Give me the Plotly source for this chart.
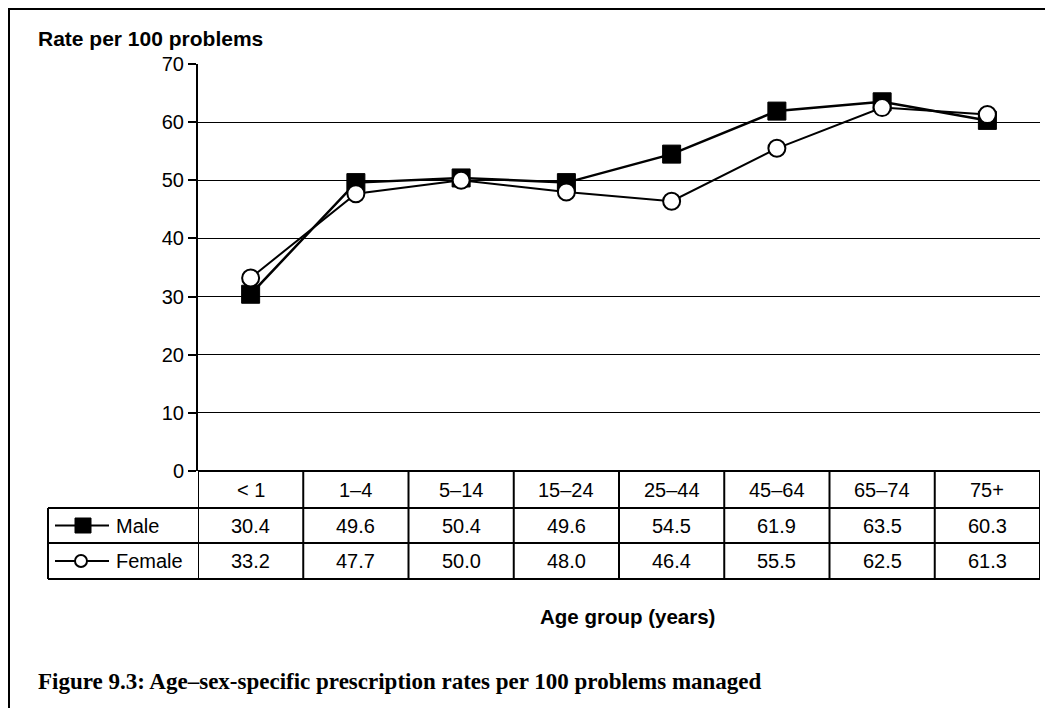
import plotly.graph_objects as go

age_groups = ["< 1", "1–4", "5–14", "15–24", "25–44", "45–64", "65–74", "75+"]
male = [30.4, 49.6, 50.4, 49.6, 54.5, 61.9, 63.5, 60.3]
female = [33.2, 47.7, 50.0, 48.0, 46.4, 55.5, 62.5, 61.3]
series_names = ["Male", "Female"]
y_ticks = [0, 10, 20, 30, 40, 50, 60, 70]

# page body has an 8px margin; work in screen pixels and convert
O = 8
W, H = 1053 - O, 708 - O
L, R, T, B = 198, 1040, 64, 471   # screen pixels of plot area
PW, PH = R - L, B - T

def px_x(x):
    return (x - L) / PW

def px_y(y):
    return (B - y) / PH

SANS = "Arial, Liberation Sans, sans-serif"
idx = list(range(len(age_groups)))

fig = go.Figure()
fig.add_trace(go.Scatter(
    x=idx, y=male, mode="lines+markers", name="Male",
    line=dict(color="black", width=2.5),
    marker=dict(symbol="square", size=18, color="black", line=dict(color="black", width=1)),
    cliponaxis=False, showlegend=False))
fig.add_trace(go.Scatter(
    x=idx, y=female, mode="lines+markers", name="Female",
    line=dict(color="black", width=2),
    marker=dict(symbol="circle", size=17, color="white", line=dict(color="black", width=2)),
    cliponaxis=False, showlegend=False))

shapes = []
ann = []
lw = 2
row_y = [471, 508, 543, 579]
shapes.append(dict(type="line", xref="paper", yref="paper", x0=0, x1=1,
                   y0=px_y(row_y[0]), y1=px_y(row_y[0]), line=dict(color="black", width=lw)))
for yy in row_y[1:]:
    shapes.append(dict(type="line", xref="paper", yref="paper", x0=px_x(48), x1=1,
                       y0=px_y(yy), y1=px_y(yy), line=dict(color="black", width=lw)))
for i in range(len(age_groups) + 1):
    shapes.append(dict(type="line", xref="x", yref="paper", x0=i - 0.5, x1=i - 0.5,
                       y0=px_y(row_y[0]), y1=px_y(row_y[3]), line=dict(color="black", width=lw)))
shapes.append(dict(type="line", xref="paper", yref="paper", x0=px_x(48), x1=px_x(48),
                   y0=px_y(row_y[1]), y1=px_y(row_y[3]), line=dict(color="black", width=lw)))

for k, name in enumerate(series_names):
    yc = (row_y[k + 1] + row_y[k + 2]) / 2
    shapes.append(dict(type="line", xref="paper", yref="paper", x0=px_x(55), x1=px_x(109),
                       y0=px_y(yc), y1=px_y(yc), line=dict(color="black", width=2)))
    if k == 0:
        shapes.append(dict(type="rect", xref="paper", yref="paper", x0=px_x(75), x1=px_x(91),
                           y0=px_y(yc - 7.5), y1=px_y(yc + 7.5),
                           fillcolor="black", line=dict(color="black", width=1)))
    else:
        shapes.append(dict(type="circle", xref="paper", yref="paper", x0=px_x(75), x1=px_x(87),
                           y0=px_y(yc - 6), y1=px_y(yc + 6),
                           fillcolor="white", line=dict(color="black", width=2)))
    ann.append(dict(x=px_x(114), y=px_y(yc), xref="paper", yref="paper", text=name,
                    showarrow=False, xanchor="left", yanchor="middle",
                    font=dict(family=SANS, size=20, color="black")))

hy = (row_y[0] + row_y[1]) / 2
for i, g in enumerate(age_groups):
    ann.append(dict(x=i, y=px_y(hy), xref="x", yref="paper", text=g, showarrow=False,
                    xanchor="center", yanchor="middle",
                    font=dict(family=SANS, size=20, color="black")))
for k, vals in enumerate([male, female]):
    yc = (row_y[k + 1] + row_y[k + 2]) / 2
    for i, v in enumerate(vals):
        ann.append(dict(x=i, y=px_y(yc), xref="x", yref="paper", text=f"{v:.1f}", showarrow=False,
                        xanchor="center", yanchor="middle",
                        font=dict(family=SANS, size=20, color="black")))

# outer frame (left and top)
shapes.append(dict(type="line", xref="paper", yref="paper", x0=px_x(9), x1=px_x(9),
                   y0=px_y(9), y1=px_y(720), line=dict(color="black", width=2)))
shapes.append(dict(type="line", xref="paper", yref="paper", x0=px_x(8), x1=px_x(1070),
                   y0=px_y(9), y1=px_y(9), line=dict(color="black", width=2)))

ann.append(dict(x=px_x(36), y=px_y(38), xref="paper", yref="paper", text="<b>Rate per 100 problems</b>",
                showarrow=False, xanchor="left", yanchor="middle",
                font=dict(family=SANS, size=21, color="black")))
ann.append(dict(x=px_x(627), y=px_y(616), xref="paper", yref="paper", text="<b>Age group (years)</b>",
                showarrow=False, xanchor="center", yanchor="middle",
                font=dict(family=SANS, size=20.5, color="black")))
ann.append(dict(x=px_x(36), y=px_y(681), xref="paper", yref="paper",
                text="<b>Figure 9.3: Age–sex-specific prescription rates per 100 problems managed</b>",
                showarrow=False, xanchor="left", yanchor="middle",
                font=dict(family="Liberation Serif, Times New Roman, serif", size=23, color="black")))

fig.update_layout(
    width=W, height=H,
    margin=dict(l=L - O, r=(1053 - R), t=T - O, b=(708 - B), pad=0),
    paper_bgcolor="white", plot_bgcolor="white",
    shapes=shapes, annotations=ann,
    xaxis=dict(range=[-0.5, len(age_groups) - 0.5], showticklabels=False, showgrid=False,
               zeroline=False, showline=False, ticks=""),
    yaxis=dict(range=[0, 70], tickvals=y_ticks, showgrid=True, gridcolor="black", gridwidth=1.3,
               zeroline=False, showline=True, linecolor="black", linewidth=2,
               ticks="outside", ticklen=8, tickwidth=2, tickcolor="black",
               tickfont=dict(family=SANS, size=20, color="black")),
    font=dict(family=SANS, color="black"),
)

fig.write_html("out.html")
